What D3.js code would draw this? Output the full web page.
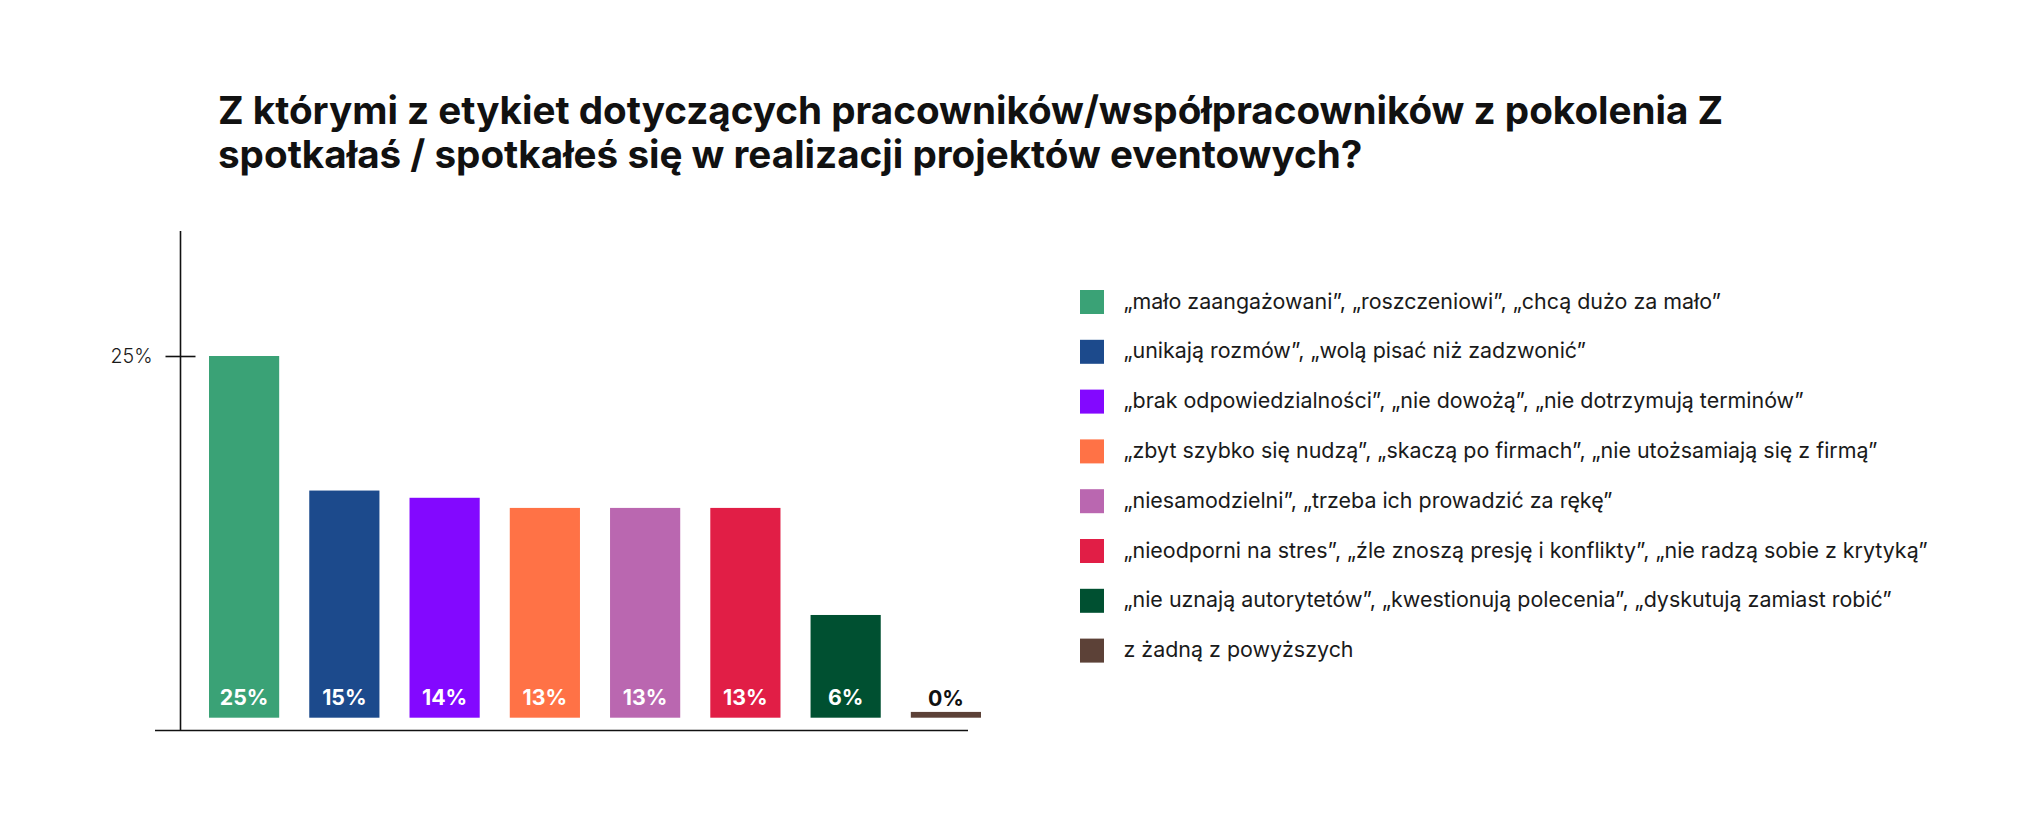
<!DOCTYPE html>
<html>
  <head>
    <meta charset="utf-8">
    <title>pokolenie Z</title>
    <script src="https://cdn.jsdelivr.net/npm/d3@7/dist/d3.min.js" charset="utf-8"></script>
<style>
body { margin: 0; background: #ffffff; }
svg { display: block; font-family: Inter, "Open Sans", sans-serif; }
.title { font-weight: 700; fill: #111111; }
.legend-text { fill: #1a1a1a; font-weight: 400; }
.axis-line { stroke: #111111; stroke-width: 1.6; }
</style>
  </head>
  <body>
      <svg></svg>
          <script>
            var width = 2036;
            var height = 818;

            var titleLines = [
              "Z którymi z etykiet dotyczących pracowników/współpracowników z pokolenia Z",
              "spotkałaś / spotkałeś się w realizacji projektów eventowych?"
            ];
            var categories = [
              "„mało zaangażowani”, „roszczeniowi”, „chcą dużo za mało”",
              "„unikają rozmów”, „wolą pisać niż zadzwonić”",
              "„brak odpowiedzialności”, „nie dowożą”, „nie dotrzymują terminów”",
              "„zbyt szybko się nudzą”, „skaczą po firmach”, „nie utożsamiają się z firmą”",
              "„niesamodzielni”, „trzeba ich prowadzić za rękę”",
              "„nieodporni na stres”, „źle znoszą presję i konflikty”, „nie radzą sobie z krytyką”",
              "„nie uznają autorytetów”, „kwestionują polecenia”, „dyskutują zamiast robić”",
              "z żadną z powyższych"
            ];
            // bar heights, printed labels as shown
            var values = [25, 15.7, 15.2, 14.5, 14.5, 14.5, 7.1, 0.4];
            var valueLabels = ["25%", "15%", "14%", "13%", "13%", "13%", "6%", "0%"];
            var colors = ["#3AA276", "#1C4A8C", "#8308FF", "#FF7246", "#BA67B0", "#E11E46", "#005031", "#5C4137"];
            var yTicks = [25];

            var svg = d3.select("svg").attr("width", width).attr("height", height);

            function fitWidth(sel, target){
              var w = sel.node().getComputedTextLength();
              var fs = parseFloat(sel.style("font-size"));
              var size = fs * target / w;
              sel.style("font-size", size + "px");
              return size;
            }

            // title
            var t1 = svg.append("text").attr("class", "title")
                .attr("x", 218).attr("y", 124).style("font-size", "32px").text(titleLines[0]);
            var titleSize = fitWidth(t1, 1506);
            svg.append("text").attr("class", "title")
                .attr("x", 218).attr("y", 168).style("font-size", titleSize + "px").text(titleLines[1]);

            // scales
            var y = d3.scaleLinear().domain([0, 25]).range([717.7, 356]);
            var x = d3.scaleBand().domain(categories).range([209, 981]).paddingInner(0.3).paddingOuter(0);
            var color = d3.scaleOrdinal().domain(categories).range(colors);

            var data = categories.map(function(c, i){ return {cat: c, value: values[i], label: valueLabels[i]}; });

            // axes
            svg.append("line").attr("class", "axis-line")
                .attr("x1", 180.5).attr("x2", 180.5).attr("y1", 231).attr("y2", 731);
            svg.append("line").attr("class", "axis-line")
                .attr("x1", 155).attr("x2", 968).attr("y1", 730.5).attr("y2", 730.5);

            var yAxis = svg.append("g")
                .attr("transform", "translate(180.5,0)")
                .call(d3.axisLeft(y).tickValues(yTicks).tickSize(15).tickPadding(13)
                  .tickFormat(function(d){ return d + "%"; }));
            yAxis.select(".domain").remove();
            yAxis.selectAll(".tick line").attr("x1", 15).attr("x2", -15)
                .attr("stroke", "#111111").attr("stroke-width", 1.6);
            var tickText = yAxis.selectAll(".tick text")
                .attr("fill", "#1a1a1a").style("font-family", "Inter, 'Open Sans', sans-serif")
                .style("font-weight", 300).style("font-size", "20px");
            fitWidth(tickText, 42);

            // bars
            svg.selectAll("rect.bar").data(data)
              .enter()
              .append("rect")
                .attr("class", "bar")
                .attr("x", function(d){ return x(d.cat); })
                .attr("width", x.bandwidth())
                .attr("y", function(d){ return y(d.value); })
                .attr("height", function(d){ return y(0) - y(d.value); })
                .attr("fill", function(d){ return color(d.cat); });

            var labels = svg.selectAll("text.value").data(data)
              .enter()
              .append("text")
                .attr("class", "value")
                .attr("x", function(d){ return x(d.cat) + x.bandwidth() / 2; })
                .attr("y", function(d){
                  var h = y(0) - y(d.value);
                  return h > 30 ? y(0) - 12.5 : y(d.value) - 6;
                })
                .attr("text-anchor", "middle")
                .attr("fill", function(d){ return (y(0) - y(d.value)) > 30 ? "#ffffff" : "#111111"; })
                .style("font-weight", 700)
                .style("font-size", "22px")
                .text(function(d){ return d.label; });
            var valSize = fitWidth(d3.select(labels.nodes()[0]), 48.7);
            labels.style("font-size", valSize + "px");

            // legend
            var legend = svg.append("g").attr("transform", "translate(1080,290)");
            var rows = legend.selectAll("g").data(categories)
              .enter()
              .append("g")
                .attr("transform", function(d, i){ return "translate(0," + (i * 49.8) + ")"; });
            rows.append("rect")
                .attr("width", 24).attr("height", 24)
                .attr("fill", function(d){ return color(d); });
            var legendText = rows.append("text")
                .attr("class", "legend-text")
                .attr("x", 43.5).attr("y", 18.5)
                .style("font-size", "20px")
                .text(function(d){ return d; });
            var legSize = fitWidth(d3.select(legendText.nodes()[0]), 598);
            legendText.style("font-size", legSize + "px");
          </script>
  </body>
</html>
